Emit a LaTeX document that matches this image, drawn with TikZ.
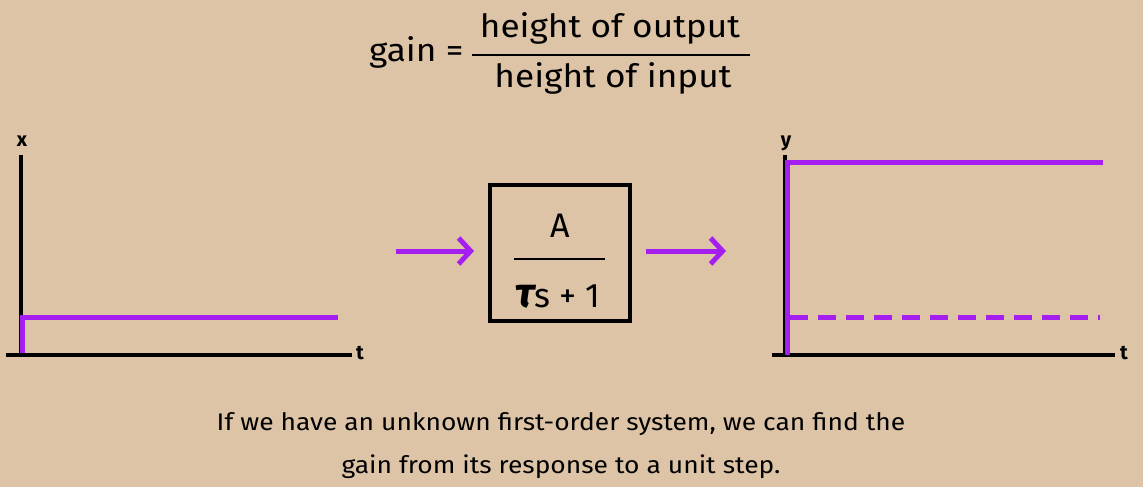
\documentclass[tikz,border=0pt]{standalone}
\usepackage{fontspec}
\setmainfont{Fira Sans}[FakeStretch=1.1]
\newfontfamily\plainfont{Fira Sans}
\usetikzlibrary{arrows.meta}
\definecolor{paper}{RGB}{221,196,167}
\definecolor{vio}{RGB}{165,30,240}
\begin{document}
\begin{tikzpicture}[x=1pt,y=-1pt,
  axis/.style={line width=4pt, black},
  resp/.style={line width=5pt, vio},
  flow/.style={line width=5pt, vio, -{Straight Barb[length=12pt,width=26pt]}},
  lbl/.style={font=\plainfont\fontsize{20}{24}\selectfont\bfseries, inner sep=0},
  ttl/.style={font=\fontsize{32}{36}\selectfont, inner sep=0},
  txt/.style={font=\fontsize{24}{28}\selectfont, inner sep=0},
  blk/.style={draw, line width=4pt, minimum width=140pt, minimum height=136pt, inner sep=0}]
\fill[paper] (0,0) rectangle (1143,487);
\useasboundingbox (0,0) rectangle (1143,487);

% title
\node[ttl, anchor=base west] (gain) at (369,62) {gain =};
\node[ttl, anchor=base] (num) at (610,38) {height of output};
\node[ttl, anchor=base] (den) at (613,87) {height of input};
\draw[line width=2.5pt] (472,55) -- (750,55);

% left plot
\coordinate (xo) at (21,355);
\coordinate (xtop) at (21,155);
\coordinate (xl) at (6,355);
\coordinate (xr) at (352,355);
\draw[axis] (xtop) -- (xo);
\draw[axis] (xl) -- (xr);
\node[lbl] (xlab) at (22,141) {x};
\node[lbl] (tl) at (360,353) {t};
\draw[resp] (22,353) -- (22,317) -- (338,317);

% block
\node[blk] (G) at (560,253) {};
\node[font=\plainfont\fontsize{34}{40}\selectfont, inner sep=0, anchor=base] (A) at (560,237) {A};
\draw[line width=2.5pt] (514,259) -- (605,259);
\node[font=\plainfont\fontsize{34}{40}\selectfont, inner sep=0, anchor=base] (D) at (558,307) {{\fontsize{42}{42}\selectfont\bfseries\itshape τ}s + 1};
\coordinate (inS) at (396,251);
\coordinate (outE) at (726,251);
\draw[flow] (inS) -- ([xshift=-14pt]G.west |- inS);
\draw[flow] ([xshift=14pt]G.east |- outE) -- (outE);

% right plot
\coordinate (yo) at (785,355);
\coordinate (ytop) at (785,155);
\coordinate (yl) at (772,355);
\coordinate (yr) at (1115,355);
\draw[axis] (ytop) -- (yo);
\draw[axis] (yl) -- (yr);
\node[lbl] (ylab) at (786,143) {y};
\node[lbl] (tr) at (1124,353) {t};
\draw[resp] (787,355) -- (787,162) -- (1103,162);
\draw[resp, dash pattern=on 18pt off 10pt] (790,317) -- (1100,317);

% caption
\node[txt, anchor=base] (c1) at (561,430) {If we have an unknown first-order system, we can find the};
\node[txt, anchor=base] (c2) at (561,473) {gain from its response to a unit step.};
\end{tikzpicture}
\end{document}
